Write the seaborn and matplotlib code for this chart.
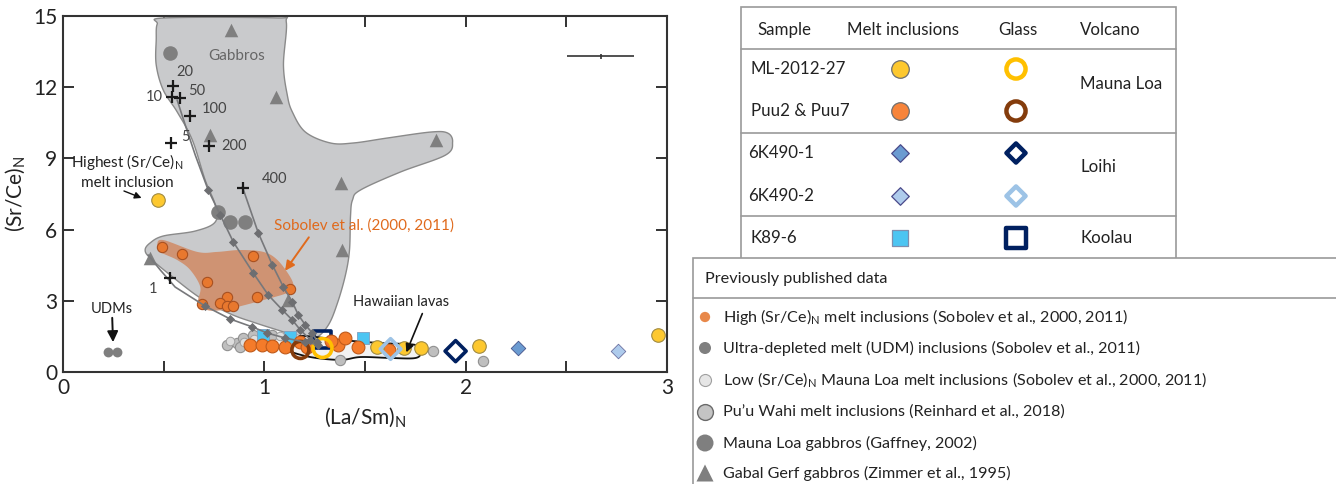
import numpy as np
import matplotlib
matplotlib.use("Agg")
import matplotlib.pyplot as plt
from matplotlib.patches import Rectangle
import seaborn as sns

# ---------------- data ----------------
# New melt inclusions (MI) and glasses
ml_mi_x = [0.473, 1.562, 1.692, 1.776, 2.065, 2.955]
ml_mi_y = [7.25, 1.05, 1.01, 1.01, 1.10, 1.56]
puu_mi_x = [0.930, 0.990, 1.040, 1.104, 1.179, 1.368, 1.403, 1.463, 1.617, 1.210, 1.330]
puu_mi_y = [1.14, 1.14, 1.10, 1.05, 1.26, 1.14, 1.43, 1.05, 0.93, 1.05, 1.30]
k89_mi_x = [0.995, 1.129, 1.488]
k89_mi_y = [1.56, 1.47, 1.43]
loihi1_mi_x = [2.259]
loihi1_mi_y = [1.01]
loihi2_mi_x = [2.756]
loihi2_mi_y = [0.88]

ml_glass_x, ml_glass_y = [1.289], [1.01]
puu_glass_x, puu_glass_y = [1.179], [0.93]
loihi1_glass_x, loihi1_glass_y = [1.950], [0.88]
loihi2_glass_x, loihi2_glass_y = [1.627], [0.97]
k89_glass_x, k89_glass_y = [1.289], [1.35]

# Previously published data
sob_high_x = [0.493, 0.592, 0.945, 0.716, 0.816, 0.781, 0.816, 0.846, 0.965, 1.129, 0.692]
sob_high_y = [5.27, 4.97, 4.89, 3.79, 3.16, 2.91, 2.78, 2.78, 3.16, 3.50, 2.87]
udm_x = [0.224, 0.269]
udm_y = [0.84, 0.84]
low_ml_x = [0.83, 0.90, 0.95, 1.00, 1.08, 1.15, 1.33]
low_ml_y = [1.30, 1.28, 1.40, 1.45, 1.50, 1.45, 1.40]
puuwahi_x = [0.816, 0.866, 0.896, 0.945, 0.881, 1.040, 1.378, 1.836, 2.085]
puuwahi_y = [1.14, 1.22, 1.43, 1.56, 1.05, 1.56, 0.51, 0.88, 0.46]
ml_gabbro_x = [0.532, 0.771, 0.831, 0.905]
ml_gabbro_y = [13.44, 6.74, 6.32, 6.32]
gerf_x = [0.836, 1.060, 0.731, 1.851, 1.383, 1.388, 0.433, 1.119]
gerf_y = [14.41, 11.59, 9.99, 9.78, 7.96, 5.14, 4.80, 3.03]

# Fields
gabbro_field_x = [0.468, 0.507, 1.055, 1.109, 1.095, 1.114, 1.139, 1.204, 1.328, 1.443,
                  1.612, 1.826, 1.910, 1.935, 1.900, 1.677, 1.478, 1.438, 1.428, 1.423,
                  1.403, 1.363, 1.318, 1.254, 1.179, 1.080, 0.955, 0.831, 0.682, 0.532,
                  0.433, 0.408, 0.433, 0.498, 0.657, 0.756, 0.756, 0.706, 0.642, 0.567,
                  0.498, 0.463, 0.463]
gabbro_field_y = [14.66, 14.92, 14.92, 14.75, 12.94, 11.67, 10.96, 10.11, 9.65, 9.65,
                  9.86, 10.11, 10.07, 9.69, 9.14, 8.43, 7.67, 7.25, 6.57, 5.14,
                  4.09, 2.90, 1.98, 1.43, 1.45, 1.73, 2.07, 2.45, 3.12, 4.09,
                  4.80, 5.14, 5.44, 5.73, 5.94, 6.32, 7.04, 8.09, 9.78, 10.96,
                  11.88, 12.94, 13.99]
sob_field_x = [0.498, 0.667, 0.766, 0.881, 0.995, 1.065, 1.129, 1.144, 1.114, 0.995,
               0.866, 0.796, 0.716, 0.672, 0.682, 0.632, 0.567, 0.483, 0.468]
sob_field_y = [5.56, 5.06, 5.06, 5.14, 5.06, 4.72, 4.00, 3.58, 3.33, 3.03,
               2.74, 2.61, 2.61, 2.95, 3.58, 4.30, 4.72, 5.06, 5.35]
hawaii_field_x = [0.990, 1.104, 1.229, 1.378, 1.478, 1.627, 1.751, 1.776, 1.751, 1.577,
                  1.378, 1.179]
hawaii_field_y = [1.35, 0.93, 0.63, 0.51, 0.63, 0.59, 0.59, 0.84, 1.14, 1.22,
                  1.35, 1.52]

# Mixing curves (first n vertices carry no increment marker)
mix1_x = [0.423, 0.483, 0.557, 0.706, 0.831, 0.940, 1.015, 1.104, 1.204, 1.269]
mix1_y = [4.93, 4.30, 3.58, 2.78, 2.23, 1.90, 1.64, 1.43, 1.26, 1.14]
mix1_plain = 3
mix2_x = [0.567, 0.607, 0.657, 0.721, 0.781, 0.846, 0.945, 1.020, 1.090, 1.139, 1.179, 1.229]
mix2_y = [11.46, 10.41, 9.14, 7.67, 6.62, 5.48, 4.17, 3.24, 2.61, 2.19, 1.77, 1.35]
mix2_plain = 3
mix3_x = [0.891, 0.970, 1.040, 1.095, 1.139, 1.169, 1.204, 1.239, 1.264]
mix3_y = [7.80, 5.86, 4.51, 3.58, 2.95, 2.40, 1.98, 1.64, 1.26]
mix3_plain = 1

# Melting crosses
cross_labels = ["1", "5", "10", "20", "50", "100", "200", "400"]
cross_x = [0.532, 0.537, 0.542, 0.547, 0.582, 0.632, 0.726, 0.896]
cross_y = [3.96, 9.65, 11.59, 12.05, 11.55, 10.79, 9.52, 7.76]

# Analytical uncertainty
err_x, err_y = 2.67, 13.3
err_dx, err_dy = 0.165, 0.1

x_ticks = [0, 0.5, 1, 1.5, 2, 2.5, 3]
x_ticklabels = ["0", "", "1", "", "2", "", "3"]
y_ticks = [0, 3, 6, 9, 12, 15]


def closed_spline(xs, ys, n=16):
    """Periodic Catmull-Rom spline through the outline vertices."""
    p = np.column_stack([xs, ys])
    m = len(p)
    out = []
    t = np.linspace(0, 1, n, endpoint=False)[:, None]
    for i in range(m):
        p0, p1, p2, p3 = p[i - 1], p[i], p[(i + 1) % m], p[(i + 2) % m]
        seg = 0.5 * ((2 * p1) + (-p0 + p2) * t + (2 * p0 - 5 * p1 + 4 * p2 - p3) * t ** 2
                     + (-p0 + 3 * p1 - 3 * p2 + p3) * t ** 3)
        out.append(seg)
    out = np.vstack(out)
    return out[:, 0], out[:, 1]


# ---------------- styling ----------------
sns.set_theme(style="ticks")
plt.rcParams["font.family"] = ["Lato", "DejaVu Sans"]
plt.rcParams["mathtext.fontset"] = "custom"
plt.rcParams["mathtext.rm"] = "Lato"

C_ML = "#fdc82f"
C_ML_GLASS = "#ffc000"
C_PUU = "#f47b2a"
C_PUU_GLASS = "#843c0c"
C_L1 = "#6b9bd1"
C_L2 = "#aecbec"
C_L2_GLASS = "#9dc3e6"
C_K89 = "#4cc5f2"
C_NAVY = "#002060"
C_SOB = "#e8782e"
C_DARK = "#7f7f7f"

fig = plt.figure(figsize=(13.36, 4.84), dpi=100)
ax = fig.add_axes([63 / 1336, 1 - 372 / 484, (667 - 63) / 1336, (372 - 16) / 484])

# Fields
gx, gy = closed_spline(gabbro_field_x, gabbro_field_y)
ax.fill(gx, gy, facecolor="#c9cacc", edgecolor="#8a8a8a", lw=1.0, zorder=1)
sx, sy = closed_spline(sob_field_x, sob_field_y)
ax.fill(sx, sy, facecolor="#cf9373", edgecolor="none", zorder=2)

sc = dict(ax=ax, legend=False)
sns.scatterplot(x=ml_gabbro_x, y=ml_gabbro_y, color=C_DARK, s=110, linewidth=0, zorder=3, **sc)
sns.scatterplot(x=gerf_x, y=gerf_y, color=C_DARK, marker="^", s=95, linewidth=0, zorder=3, **sc)
sns.scatterplot(x=sob_high_x, y=sob_high_y, color=C_SOB, s=55, edgecolor="#a85020",
                linewidth=0.8, zorder=4, **sc)
sns.scatterplot(x=udm_x, y=udm_y, color=C_DARK, s=50, linewidth=0, zorder=4, **sc)

hx, hy = closed_spline(hawaii_field_x, hawaii_field_y)
ax.fill(hx, hy, facecolor="#f2f2f2", edgecolor="#111111", lw=1.3, zorder=4)

sns.scatterplot(x=puuwahi_x, y=puuwahi_y, color="#bfbfbf", s=55, edgecolor="#909090",
                linewidth=0.8, zorder=5, **sc)
sns.scatterplot(x=low_ml_x, y=low_ml_y, color="#dedede", s=38, edgecolor="#a0a0a0",
                linewidth=0.7, zorder=5, **sc)
sns.scatterplot(x=k89_mi_x, y=k89_mi_y, color=C_K89, marker="s", s=80, edgecolor="#7f9fbf",
                linewidth=0.6, zorder=6, **sc)
sns.scatterplot(x=k89_glass_x, y=k89_glass_y, marker="s", s=150, facecolor="none",
                edgecolor=C_NAVY, linewidth=2.6, zorder=6, **sc)
sns.scatterplot(x=puu_mi_x, y=puu_mi_y, color=C_PUU, s=85, edgecolor="#c05a1a",
                linewidth=0.8, zorder=7, **sc)
sns.scatterplot(x=ml_mi_x, y=ml_mi_y, color=C_ML, s=95, edgecolor="#a08a40",
                linewidth=0.8, zorder=7, **sc)
sns.scatterplot(x=loihi1_mi_x, y=loihi1_mi_y, color=C_L1, marker="D", s=55, edgecolor="#44548a",
                linewidth=0.6, zorder=7, **sc)
sns.scatterplot(x=loihi2_mi_x, y=loihi2_mi_y, color=C_L2, marker="D", s=55, edgecolor="#6a6fa0",
                linewidth=0.6, zorder=7, **sc)
sns.scatterplot(x=puu_glass_x, y=puu_glass_y, s=150, facecolor="none", edgecolor=C_PUU_GLASS,
                linewidth=2.6, zorder=8, **sc)
sns.scatterplot(x=ml_glass_x, y=ml_glass_y, s=185, facecolor="none", edgecolor=C_ML_GLASS,
                linewidth=2.6, zorder=8, **sc)
sns.scatterplot(x=loihi2_glass_x, y=loihi2_glass_y, marker="D", s=110, facecolor="none",
                edgecolor=C_L2_GLASS, linewidth=2.6, zorder=8, **sc)
sns.scatterplot(x=loihi1_glass_x, y=loihi1_glass_y, marker="D", s=115, facecolor="none",
                edgecolor=C_NAVY, linewidth=2.6, zorder=8, **sc)

# Mixing curves with increment markers
for mx, my, k in [(mix1_x, mix1_y, mix1_plain), (mix2_x, mix2_y, mix2_plain),
                  (mix3_x, mix3_y, mix3_plain)]:
    sns.lineplot(x=mx, y=my, sort=False, estimator=None, color="#77787b", lw=1.2,
                 ax=ax, zorder=9)
    sns.scatterplot(x=mx[k:], y=my[k:], marker="D", color="#6d6e71", s=22, linewidth=0,
                    zorder=9, **sc)

# Melting-degree crosses
ax.plot(cross_x, cross_y, linestyle="none", marker="+", ms=9, mew=1.6, color="#1a1a1a", zorder=10)
lab_off = {"1": (-12, -8, "center"), "5": (7, 4, "left"), "10": (-7, 0, "right"),
           "20": (2, 10, "left"), "50": (6, 5, "left"), "100": (8, 5, "left"),
           "200": (9, 0, "left"), "400": (13, 6, "left")}
for lab, cx, cy in zip(cross_labels, cross_x, cross_y):
    dx, dy, ha = lab_off[lab]
    ax.annotate(lab, (cx, cy), xytext=(dx, dy), textcoords="offset points", ha=ha,
                va="center", fontsize=10.5, color="#444444", zorder=10)

# Uncertainty bar
ax.errorbar(err_x, err_y, xerr=err_dx, yerr=err_dy, color="#333333", lw=1.2, capsize=0)

# Labels and arrows
ax.text(0.86, 13.3, "Gabbros", fontsize=11, color="#666666", ha="center", va="center", zorder=10)
ax.text(0.318, 8.85, "Highest (Sr/Ce)$_\\mathregular{N}$", fontsize=11, color="#222222",
        ha="center", va="center", zorder=10)
ax.text(0.318, 7.96, "melt inclusion", fontsize=11, color="#222222", ha="center", va="center",
        zorder=10)
ax.annotate("", xy=(0.403, 7.29), xytext=(0.29, 7.67),
            arrowprops=dict(arrowstyle="-|>", color="#111111", lw=1.0, mutation_scale=10), zorder=10)
ax.text(0.244, 2.65, "UDMs", fontsize=10.5, color="#222222", ha="center", va="center", zorder=10)
ax.annotate("", xy=(0.249, 1.14), xytext=(0.244, 2.40),
            arrowprops=dict(arrowstyle="-|>", color="#111111", lw=1.4, mutation_scale=16), zorder=10)
ax.text(1.050, 6.19, "Sobolev et al. (2000, 2011)", fontsize=11, color="#e06a1c",
        ha="left", va="center", zorder=10)
ax.annotate("", xy=(1.095, 4.17), xytext=(1.229, 5.77),
            arrowprops=dict(arrowstyle="-|>", color="#e06a1c", lw=1.4, mutation_scale=14), zorder=10)
ax.text(1.438, 2.95, "Hawaiian lavas", fontsize=10.5, color="#222222", ha="left", va="center",
        zorder=10)
ax.annotate("", xy=(1.70, 0.72), xytext=(1.79, 2.57),
            arrowprops=dict(arrowstyle="-|>", color="#111111", lw=1.2, mutation_scale=12), zorder=10)

# Axes
ax.set_xlim(0, 3)
ax.set_ylim(0, 15)
ax.set_xticks(x_ticks)
ax.set_xticklabels(x_ticklabels)
ax.set_yticks(y_ticks)
ax.tick_params(direction="in", length=8, width=1.3, top=True, right=True, labelsize=15,
               colors="#222222", pad=4)
for sp in ax.spines.values():
    sp.set_linewidth(1.5)
    sp.set_color("#333333")
    sp.set_visible(True)
ax.set_xlabel("(La/Sm)$_\\mathregular{N}$", fontsize=15, color="#222222", labelpad=6)
ax.set_ylabel("(Sr/Ce)$_\\mathregular{N}$", fontsize=15, color="#222222", labelpad=4)

# ---------------- legend panel (pixel coordinates) ----------------
lg = fig.add_axes([0, 0, 1, 1], zorder=-1)
lg.set_xlim(0, 1336)
lg.set_ylim(484, 0)
lg.axis("off")
lg.patch.set_alpha(0)

frame = "#9a9a9a"
lg.add_patch(Rectangle((741, 7), 435, 255, facecolor="white", edgecolor=frame, lw=1.2))
for yy in (49, 133, 216):
    lg.plot([741, 1176], [yy, yy], color=frame, lw=1.2)

tfs = 12.2
for txt, xx in [("Sample", 757), ("Melt inclusions", 847), ("Glass", 998), ("Volcano", 1080)]:
    lg.text(xx, 30, txt, fontsize=tfs, va="center", ha="left", color="#222222")

rows = [("ML-2012-27", 751, 69), ("Puu2 & Puu7", 751, 111), ("6K490-1", 748, 153),
        ("6K490-2", 748, 196), ("K89-6", 751, 238)]
for txt, xx, yy in rows:
    lg.text(xx, yy, txt, fontsize=tfs, va="center", ha="left", color="#222222")
for txt, yy in [("Mauna Loa", 84), ("Loihi", 167), ("Koolau", 238)]:
    lg.text(1080, yy, txt, fontsize=tfs, va="center", ha="left", color="#222222")

mi_x, gl_x = 900, 1016
lg.scatter([mi_x], [69], s=160, c=C_ML, edgecolors="#6f6f6f", linewidths=0.9)
lg.scatter([mi_x], [111], s=160, c="#f7843a", edgecolors="#6f6f6f", linewidths=0.9)
lg.scatter([mi_x], [153], s=80, marker="D", c=C_L1, edgecolors="#4a4a8a", linewidths=0.9)
lg.scatter([mi_x], [196], s=80, marker="D", c=C_L2, edgecolors="#4a4a8a", linewidths=0.9)
lg.scatter([mi_x], [238], s=140, marker="s", c=C_K89, edgecolors="#7f8faf", linewidths=0.9)
lg.scatter([gl_x], [69], s=190, facecolors="none", edgecolors=C_ML_GLASS, linewidths=3.2)
lg.scatter([gl_x], [111], s=190, facecolors="none", edgecolors=C_PUU_GLASS, linewidths=3.2)
lg.scatter([gl_x], [153], s=95, marker="D", facecolors="none", edgecolors=C_NAVY, linewidths=3.2)
lg.scatter([gl_x], [196], s=95, marker="D", facecolors="none", edgecolors=C_L2_GLASS,
           linewidths=3.2)
lg.scatter([gl_x], [238], s=190, marker="s", facecolors="none", edgecolors=C_NAVY,
           linewidths=3.2)

# Previously published data box
lg.add_patch(Rectangle((693, 258), 700, 260, facecolor="white", edgecolor=frame, lw=1.2,
                       clip_on=False))
lg.plot([693, 1336], [298, 298], color=frame, lw=1.2)
lg.text(705, 279, "Previously published data", fontsize=11.7, va="center", ha="left",
        color="#222222")

lfs = 11.6
prev = [
    ("High (Sr/Ce)$_\\mathregular{N}$ melt inclusions (Sobolev et al., 2000, 2011)", 317,
     dict(s=55, c="#e8884a", marker="o", edgecolors="none")),
    ("Ultra-depleted melt (UDM) inclusions (Sobolev et al., 2011)", 348,
     dict(s=75, c=C_DARK, marker="o", edgecolors="none")),
    ("Low (Sr/Ce)$_\\mathregular{N}$ Mauna Loa melt inclusions (Sobolev et al., 2000, 2011)", 380,
     dict(s=75, c="#e6e6e6", marker="o", edgecolors="#a0a0a0", linewidths=0.8)),
    ("Pu\u2019u Wahi melt inclusions (Reinhard et al., 2018)", 412,
     dict(s=130, c="#c4c4c4", marker="o", edgecolors="#6a6a6a", linewidths=1.0)),
    ("Mauna Loa gabbros (Gaffney, 2002)", 443,
     dict(s=150, c=C_DARK, marker="o", edgecolors="none")),
    ("Gabal Gerf gabbros (Zimmer et al., 1995)", 473,
     dict(s=150, c=C_DARK, marker="^", edgecolors="none")),
]
for txt, yy, mk in prev:
    lg.scatter([705], [yy], **mk)
    lg.text(723, yy, txt, fontsize=lfs, va="center", ha="left", color="#222222")

fig.savefig("out.png", dpi=100)
